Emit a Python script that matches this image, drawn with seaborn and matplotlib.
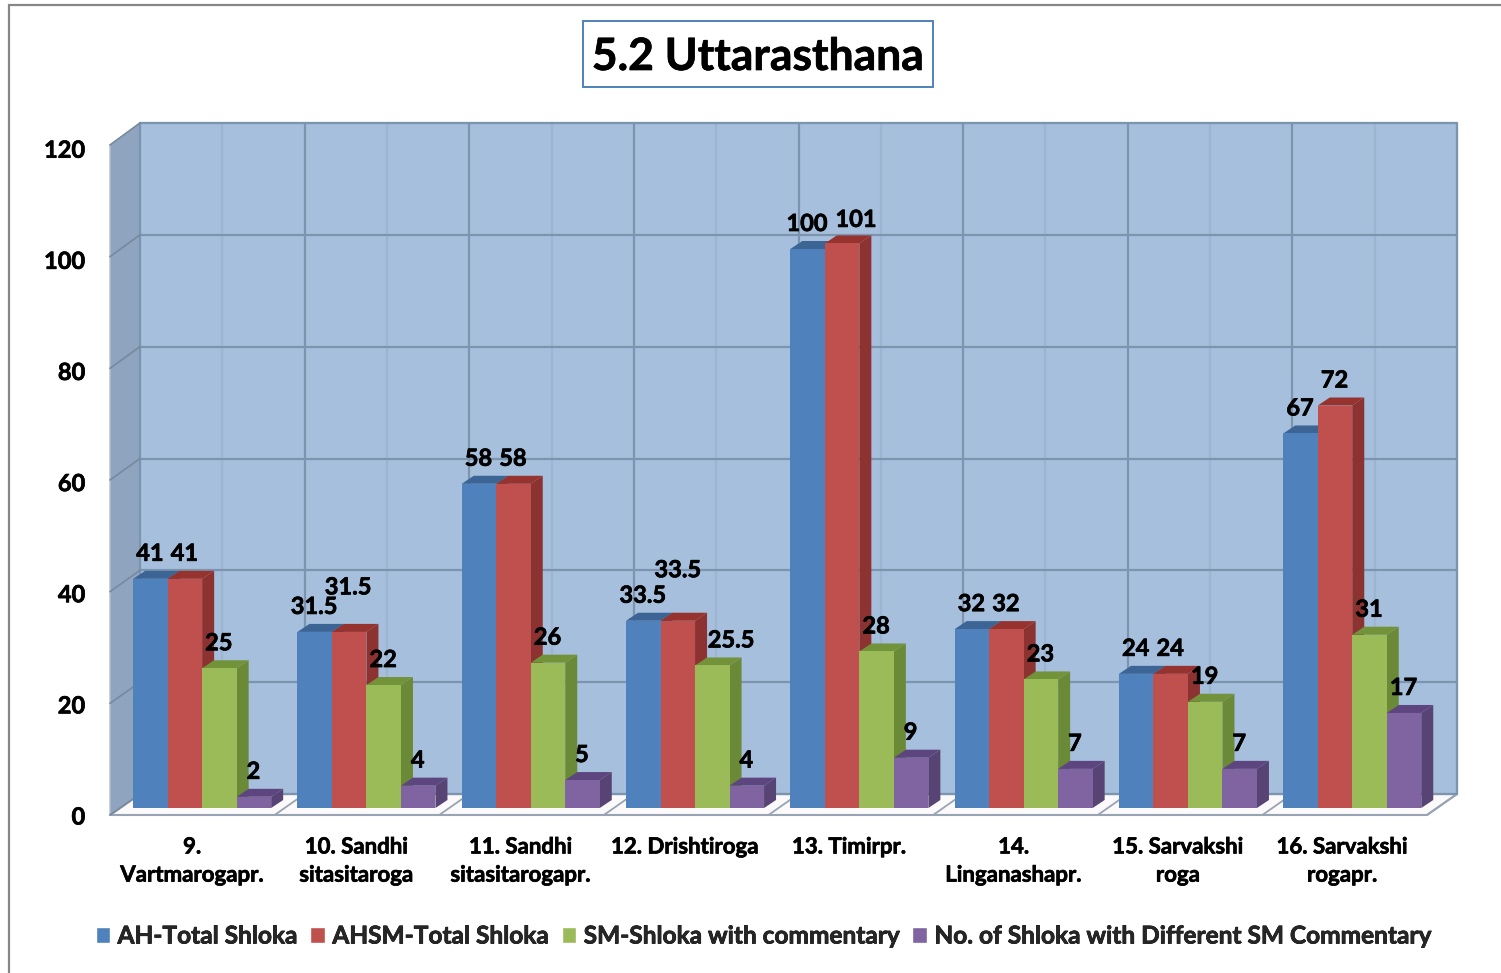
import numpy as np
import pandas as pd
import matplotlib
matplotlib.use('Agg')
import matplotlib.pyplot as plt
import matplotlib.patheffects as pe
from matplotlib.patches import Polygon, Rectangle
from matplotlib.transforms import ScaledTranslation
import seaborn as sns

# chart values
chapters = ['9.\nVartmarogapr.', '10. Sandhi\nsitasitaroga', '11. Sandhi\nsitasitarogapr.',
            '12. Drishtiroga', '13. Timirpr.', '14.\nLinganashapr.',
            '15. Sarvakshi\nroga', '16. Sarvakshi\nrogapr.']
series_names = ['AH-Total Shloka', 'AHSM-Total Shloka', 'SM-Shloka with commentary',
                'No. of Shloka with Different SM Commentary']
ah_total = [41, 31.5, 58, 33.5, 100, 32, 24, 67]
ahsm_total = [41, 31.5, 58, 33.5, 101, 32, 24, 72]
sm_commentary = [25, 22, 26, 25.5, 28, 23, 19, 31]
different_sm = [2, 4, 5, 4, 9, 7, 7, 17]
y_ticks = [0, 20, 40, 60, 80, 100, 120]

front_colors = ['#4f81bd', '#c0504d', '#9bbb59', '#8064a2']
side_colors = ['#385d8a', '#8c3230', '#6b8a38', '#574374']
top_colors = ['#3c6596', '#97332f', '#72933a', '#5d4580']

W, H, DPI = 1501, 973, 100
PX_X = 1 / 164.3   # one pixel in category units
PX_Y = 1 / 5.59    # one pixel in value units
DEPTH_X, DEPTH_Y = 12, 8

df = pd.DataFrame({
    'chapter': chapters * 4,
    'series': np.repeat(series_names, len(chapters)),
    'value': ah_total + ahsm_total + sm_commentary + different_sm,
})

sns.set_theme(style='white')
plt.rcParams['font.family'] = ['Lato', 'DejaVu Sans']
plt.rcParams['font.weight'] = 'bold'

# the text in the source is heavier than Lato Bold
thick = [pe.withStroke(linewidth=0.5, foreground='black')]

fig = plt.figure(figsize=(W / DPI, H / DPI), dpi=DPI, facecolor='white')

# background layer in pixel coordinates for the box, walls and floor
bg = fig.add_axes([0, 0, 1, 1], zorder=0)
bg.set_xlim(0, W)
bg.set_ylim(H, 0)
bg.axis('off')

bg.plot([9, 9, W], [H, 5, 5], color='#868686', lw=1.6, solid_joinstyle='miter')
bg.add_patch(Rectangle((583, 21), 350, 66, fc='white', ec='#4f81bd', lw=1.4))

wall_l, wall_r, wall_t, wall_b = 140, 1457, 123, 794
front_l, front_r, front_b = 110, 1427, 815
grid_col = '#7d94ae'
bg.add_patch(Polygon([(front_l, front_b), (front_r, front_b), (wall_r, wall_b), (wall_l, wall_b)],
                     fc='#fbf9f9', ec='#98a4b4', lw=1.5))
bg.add_patch(Rectangle((wall_l, wall_t), wall_r - wall_l, wall_b - wall_t,
                       fc='#a5bfdd', ec=grid_col, lw=1.5))
bg.add_patch(Polygon([(front_l, 145), (wall_l, wall_t), (wall_l, wall_b), (front_l, front_b)],
                     fc='#8fa5bf', ec='#b4bfcc', lw=1))

step = (wall_r - wall_l) / 8
for k in range(9):
    x = wall_l + k * step
    bg.plot([x, x], [wall_t, wall_b], color=grid_col, lw=1.6)
    bg.plot([front_l + k * step, x], [front_b, wall_b], color='#98a4b4', lw=1.3)
    if k < 8:
        bg.plot([x + step / 2] * 2, [wall_t, wall_b], color='#9db5d0', lw=1.6)
for v in y_ticks:
    wy = wall_b - v * (wall_b - wall_t) / 120
    fy = front_b - v * (front_b - 145) / 120
    bg.plot([wall_l, wall_r], [wy, wy], color=grid_col, lw=1.6)
    bg.plot([front_l, wall_l], [fy, wy], color='#76899f', lw=1.2)

# bars
ax = fig.add_axes([120 / W, (H - 808) / H, 8 * 164.3 / W, 120 * 5.59 / H], zorder=1)
ax.patch.set_alpha(0)
sns.barplot(data=df, x='chapter', y='value', hue='series', hue_order=series_names,
            order=chapters, palette=front_colors, saturation=1, width=0.84, gap=0,
            dodge=True, ax=ax)
ax.set_xlim(-0.5, 7.5)
ax.set_ylim(0, 120)
ax.set_xlabel('')
ax.set_ylabel('')
ax.set_yticks(y_ticks)
sns.despine(ax=ax, left=True, bottom=True)

# labels the source chart moved by hand: (chapter, series) -> pixels right, pixels up
label_moves = {(1, 1): (-1, 45), (3, 1): (0, 51), (3, 2): (19, 25.5), (4, 1): (14, 24)}

for j, container in enumerate(ax.containers):
    for i, bar in enumerate(container):
        x0, w, h = bar.get_x(), bar.get_width(), bar.get_height()
        x1 = x0 + w
        dx, dy = DEPTH_X * PX_X, DEPTH_Y * PX_Y
        bar.set_zorder(3 + j * 2)
        bar.set_linewidth(0)
        ax.add_patch(Polygon([(x1, 0), (x1 + dx, dy), (x1 + dx, h + dy), (x1, h)],
                             fc=side_colors[j], lw=0, zorder=2 + j * 2, clip_on=False))
        ax.add_patch(Polygon([(x0, h), (x0 + dx, h + dy), (x1 + dx, h + dy), (x1, h)],
                             fc=top_colors[j], lw=0, zorder=2 + j * 2, clip_on=False))
        mx, my = label_moves.get((i, j), (-0.5, 25.5))
        ax.annotate(f'{h:g}', (x0 + w / 2, h), xytext=(mx * 0.72, my * 0.72),
                    textcoords='offset points', ha='center', va='center',
                    fontsize=17, fontweight='bold', color='black', zorder=20,
                    path_effects=thick)

# tick labels sit on the front plane, not on the plane of the bars
ax.tick_params(axis='both', length=0)
ax.tick_params(axis='x', pad=20.5, labelsize=16, labelcolor='black')
ax.tick_params(axis='y', pad=25, labelsize=17, labelcolor='black')
for lab in ax.get_xticklabels():
    lab.set_transform(lab.get_transform() + ScaledTranslation(-10 / DPI, 0, fig.dpi_scale_trans))
    lab.set_linespacing(1.42)
    lab.set_fontweight('bold')
    lab.set_path_effects(thick)
for v, lab in zip(y_ticks, ax.get_yticklabels()):
    lab.set_transform(lab.get_transform()
                      + ScaledTranslation(0, -(7 + v * 4 / 120) / DPI, fig.dpi_scale_trans))
    lab.set_fontweight('bold')
    lab.set_path_effects(thick)

sns.move_legend(ax, 'center', bbox_to_anchor=(763 / W, (H - 936) / H),
                bbox_transform=fig.transFigure, ncol=4, frameon=False, title=None,
                prop={'size': 17.6, 'weight': 'bold'}, handlelength=0.6, handleheight=0.6,
                handletextpad=0.3, columnspacing=0.53, borderpad=0, borderaxespad=0)
for txt in ax.get_legend().get_texts():
    txt.set_path_effects(thick)

fig.suptitle('5.2 Uttarasthana', x=758 / W, y=(H - 57) / H, ha='center', va='center',
             fontsize=32, fontweight='bold', color='black', path_effects=thick)

fig.savefig('out.png', dpi=DPI)
